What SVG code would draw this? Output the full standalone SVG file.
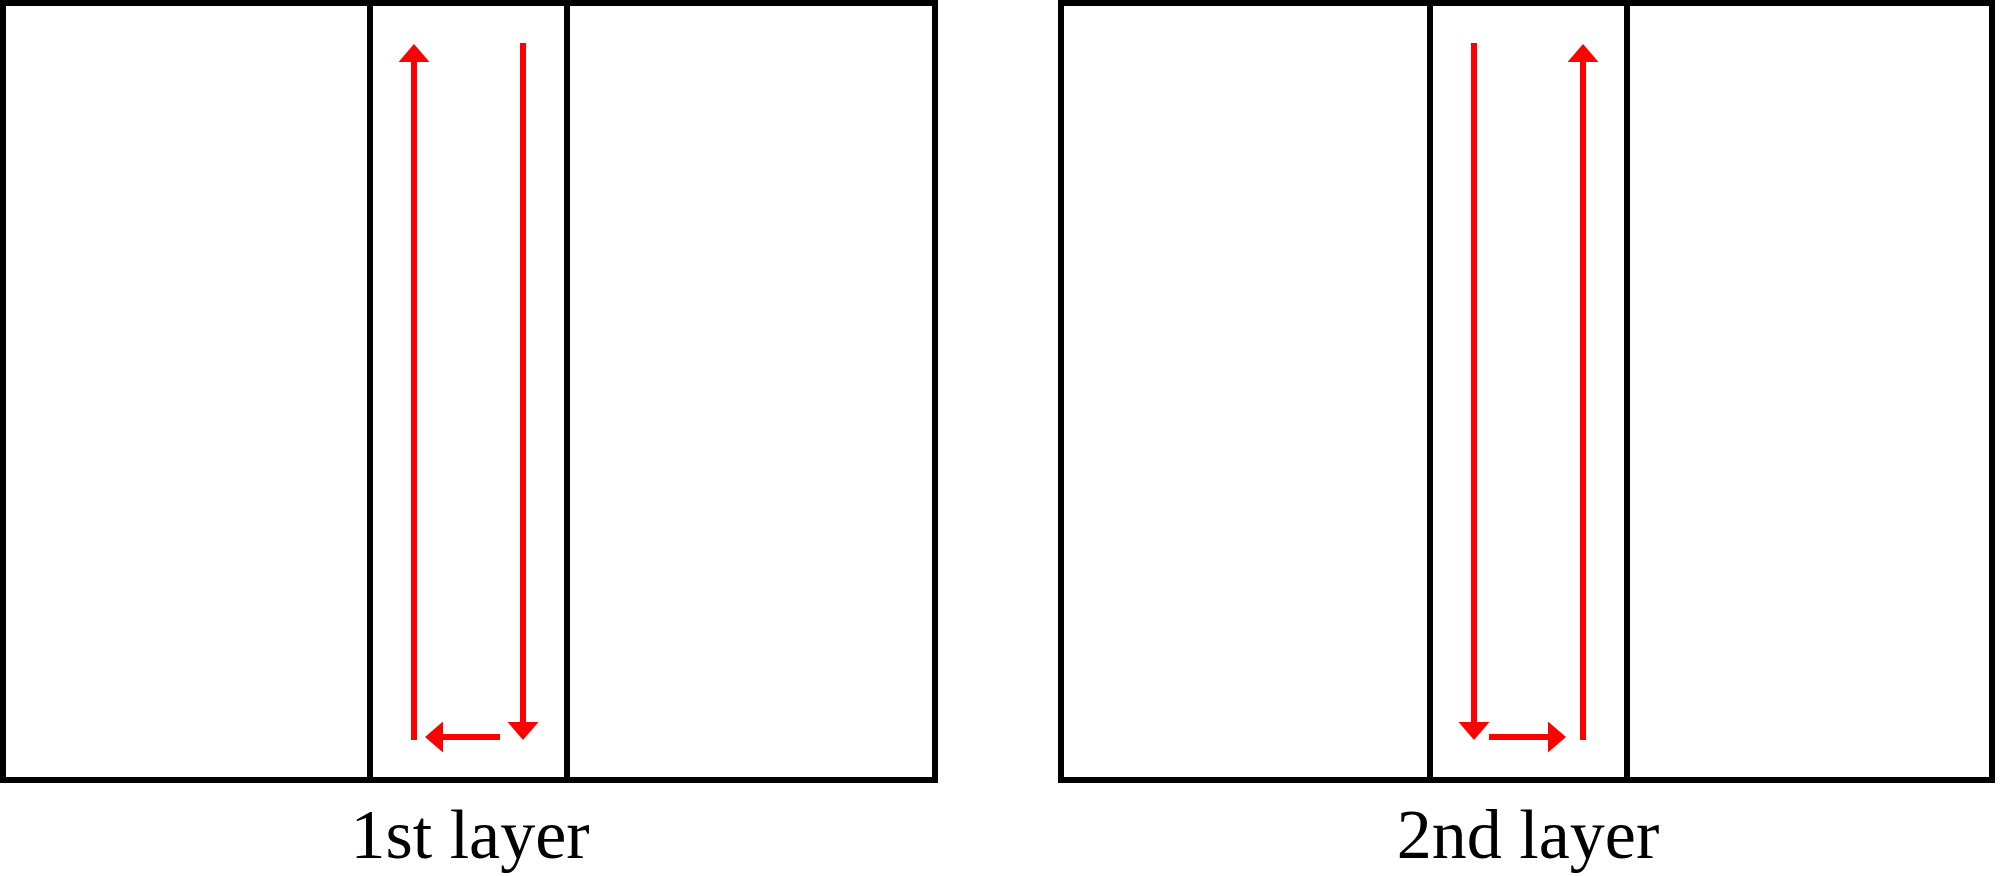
<svg xmlns="http://www.w3.org/2000/svg" width="2000" height="876" viewBox="0 0 2000 876">
<style>
.box{fill:#ffffff;stroke:#000000;stroke-width:6}
.div{stroke:#000000;stroke-width:6}
.arr{stroke:#ff0000;stroke-width:6;fill:none}
.lbl{font-family:"Liberation Serif","Times New Roman",serif;font-size:70px;fill:#000000;text-anchor:middle}
</style>
<defs>
<marker id="head" viewBox="0 0 10 10" refX="0" refY="5" markerWidth="18" markerHeight="31" markerUnits="userSpaceOnUse" orient="auto" preserveAspectRatio="none">
<path d="M0,0 L10,5 L0,10 z" fill="#ff0000"/>
</marker>
</defs>
<rect width="2000" height="876" fill="#ffffff"/>
<g id="panel1">
<rect class="box" x="3" y="3" width="932" height="777"/>
<line class="div" x1="370" y1="3" x2="370" y2="780"/>
<line class="div" x1="567" y1="3" x2="567" y2="780"/>
<text class="lbl" x="470" y="858">1st layer</text>
</g>
<g id="panel2">
<rect class="box" x="1061" y="3" width="931" height="777"/>
<line class="div" x1="1430" y1="3" x2="1430" y2="780"/>
<line class="div" x1="1627" y1="3" x2="1627" y2="780"/>
<text class="lbl" x="1528" y="858">2nd layer</text>
</g>
<g id="connectors">
<line class="arr" x1="414" y1="740" x2="414" y2="62" marker-end="url(#head)"/>
<line class="arr" x1="523" y1="43" x2="523" y2="722" marker-end="url(#head)"/>
<line class="arr" x1="500" y1="737" x2="443" y2="737" marker-end="url(#head)"/>
<line class="arr" x1="1474" y1="43" x2="1474" y2="722" marker-end="url(#head)"/>
<line class="arr" x1="1489" y1="737" x2="1548" y2="737" marker-end="url(#head)"/>
<line class="arr" x1="1583" y1="740" x2="1583" y2="62" marker-end="url(#head)"/>
</g>
</svg>
